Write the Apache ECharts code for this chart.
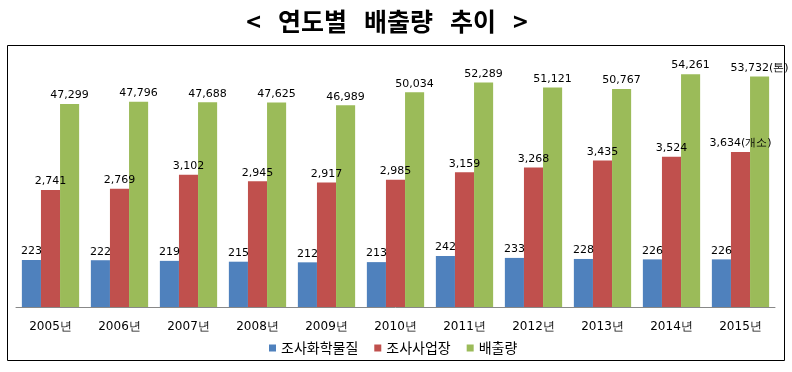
<!DOCTYPE html>
<html><head><meta charset="utf-8">
<script src="https://cdn.jsdelivr.net/npm/echarts@6/dist/echarts.min.js"></script>
<style>html,body{margin:0;padding:0;background:#fff;}#c{width:792px;height:372px;}</style>
</head><body><div id="c"></div>
<script>
const titleText = '<   연도별   배출량   추이   >';
const categories = ['2005년','2006년','2007년','2008년','2009년','2010년','2011년','2012년','2013년','2014년','2015년'];
const seriesNames = ['조사화학물질','조사사업장','배출량'];
const chemicals = [223,222,219,215,212,213,242,233,228,226,226];
const sites = [2741,2769,3102,2945,2917,2985,3159,3268,3435,3524,3634];
const emissions = [47299,47796,47688,47625,46989,50034,52289,51121,50767,54261,53732];
const lastSuffix = ['', '(개소)', '(톤)'];

const colors = ['#4F81BD','#C0504D','#9BBB59'];
const fmt = n => n.toString().replace(/\B(?=(\d{3})+(?!\d))/g, ',');
const dataSets = [chemicals, sites, emissions];
const axisMax = [1215, 6000, 59650];

const chart = echarts.init(document.getElementById('c'));
chart.setOption({
  animation: false,
  title: { text: titleText, left: 382, textAlign: 'center', top: 4,
    textStyle: { fontFamily: 'Noto Sans CJK KR', fontSize: 25, fontWeight: 'bold', color: '#000' } },
  graphic: [{ type: 'rect', shape: { x: 7.5, y: 45.5, width: 777, height: 315 },
    style: { fill: 'none', stroke: '#000', lineWidth: 1 }, z: -1 }],
  legend: { top: 336, left: 264, itemWidth: 7, itemHeight: 7, itemGap: 16,
    icon: 'rect',
    textStyle: { fontFamily: 'Noto Sans CJK KR', fontSize: 14, color: '#000' },
    data: seriesNames },
  grid: { left: 16, right: 17, top: 51, bottom: 65 },
  xAxis: { type: 'category', data: categories,
    axisLine: { lineStyle: { color: '#888', width: 1 } }, axisTick: { show: false },
    axisLabel: { color: '#000', fontSize: 12, fontFamily: 'DejaVu Sans', margin: 14 } },
  yAxis: [0,1,2].map(i => ({ type: 'value', min: 0, max: axisMax[i], show: false, splitLine: { show: false } })),
  series: [0,1,2].map(i => ({
    name: seriesNames[i], type: 'bar', yAxisIndex: i, data: dataSets[i],
    barGap: '0%', barCategoryGap: '17%',
    itemStyle: { color: colors[i] },
    label: { show: true, position: 'top', distance: 3, color: '#000', fontSize: 11, fontFamily: 'DejaVu Sans',
      formatter: p => fmt(p.value) + (p.dataIndex === categories.length - 1 ? lastSuffix[i] : '') }
  }))
});
</script></body></html>
